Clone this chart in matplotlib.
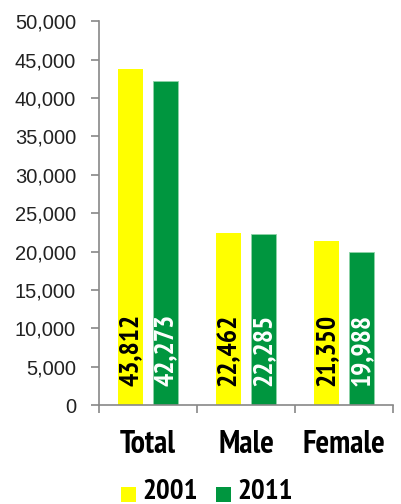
import matplotlib
matplotlib.use("Agg")
import matplotlib.pyplot as plt
import numpy as np
from matplotlib.patches import Rectangle

categories = ["Total", "Male", "Female"]
series_names = ["2001", "2011"]
values_2001 = [43812, 22462, 21350]
values_2011 = [42273, 22285, 19988]
yticks = [0, 5000, 10000, 15000, 20000, 25000, 30000, 35000, 40000, 45000, 50000]

NARROW = ["PT Sans Narrow", "Archivo Narrow", "DejaVu Sans"]
REGULAR = ["Liberation Sans", "Arimo", "DejaVu Sans"]

YELLOW = "#FFFF00"
GREEN = "#00963F"
colors = [YELLOW, GREEN]

fig = plt.figure(figsize=(4.02, 5.04), dpi=100)
ax = fig.add_axes([0.246, 0.196, 0.732, 0.762])

x = np.arange(len(categories))
w = 0.25
off = 0.177
ax.bar(x - off, values_2001, w, color=YELLOW, edgecolor="none")
ax.bar(x + off, values_2011, w, color=GREEN, edgecolor="#8fd3a8", linewidth=0.6)

for xi, v in zip(x - off, values_2001):
    ax.text(xi, 2500, f"{v:,}", rotation=90, ha="center", va="bottom",
            fontsize=20, fontweight="bold", family=NARROW, color="black")
for xi, v in zip(x + off, values_2011):
    ax.text(xi, 2500, f"{v:,}", rotation=90, ha="center", va="bottom",
            fontsize=20, fontweight="bold", family=NARROW, color="white")

ax.set_xlim(-0.5, 2.5)
ax.set_ylim(0, 50000)
ax.set_yticks(yticks)
ax.set_yticklabels([f"{t:,}" for t in yticks], family=REGULAR, fontsize=14.5, color="#222222")
ax.set_xticks([-0.5, 0.5, 1.5, 2.5])
ax.set_xticklabels([])
ax.set_xticks(x, minor=True)
ax.set_xticklabels(categories, minor=True, family=NARROW, fontsize=23, fontweight="bold")
ax.tick_params(axis="x", which="minor", length=0, pad=18)
ax.tick_params(axis="x", which="major", length=6, color="#888888", width=1.2)
ax.tick_params(axis="y", length=6, color="#888888", width=1.2, pad=10.5)

for s in ["top", "right"]:
    ax.spines[s].set_visible(False)
for s in ["left", "bottom"]:
    ax.spines[s].set_color("#888888")
    ax.spines[s].set_linewidth(1.2)

# legend (manually placed near the bottom edge as in the reference)
W, H = 402.0, 504.0
legend_x = [121, 216]
for lx, name, c in zip(legend_x, series_names, colors):
    fig.patches.append(Rectangle((lx / W, 2 / H), 15 / W, 15 / H, transform=fig.transFigure,
                                 facecolor=c, edgecolor="none"))
    fig.text((lx + 21) / W, 5 / H, name, ha="left", va="baseline",
             family=NARROW, fontsize=21, fontweight="bold")

fig.savefig("out.png", dpi=100)
